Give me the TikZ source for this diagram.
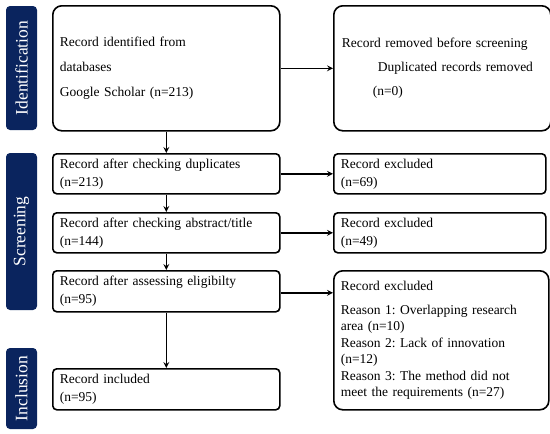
\documentclass[tikz,border=0pt]{standalone}
\usepackage{fontspec}
\setmainfont{Liberation Serif}
\usepackage{xcolor}
\usepackage{tikz}
\usetikzlibrary{arrows,positioning}
\definecolor{navy}{RGB}{10,36,94}
\frenchspacing

\begin{document}
\begin{tikzpicture}[x=1pt, y=-1pt, >=stealth,
        stage/.style={rectangle, rounded corners=4pt, fill=navy, text=white,
        rotate=90, minimum height=31pt, inner sep=0pt,
        font=\fontsize{17.5}{20}\selectfont},
        record/.style={rectangle, draw, line width=1.6pt, rounded corners=4pt,
        anchor=north west, align=left, inner xsep=7pt, inner ysep=0pt,
        font=\fontsize{13.5}{18}\selectfont},
        flow/.style={->, line width=1.6pt}]

    \useasboundingbox (0,0) rectangle (550,434);

    % stages
    \node[stage, minimum width=124pt] (identification) at (21.5,68) {Identification};
    \node[stage, minimum width=157pt] (screening) at (21.5,231.5) {Screening};
    \node[stage, minimum width=81pt] (inclusion) at (21.5,388.5) {Inclusion};

    % left column
    \node[record, rounded corners=9pt, text width=213pt, minimum height=125pt,
        font=\fontsize{13.5}{25}\selectfont] (identified) at (52,5)
        {Record identified from\\databases\\Google Scholar (n=213)};
    \node[record, text width=213pt, minimum height=40pt] (duplicates) at (52,153)
        {Record after checking duplicates\\(n=213)};
    \node[record, text width=213pt, minimum height=40pt] (abstract) at (52,212)
        {Record after checking abstract/title\\(n=144)};
    \node[record, text width=213pt, minimum height=41pt] (eligibility) at (52,270)
        {Record after assessing eligibilty\\(n=95)};
    \node[record, text width=213pt, minimum height=41pt] (included) at (52,368)
        {Record included\\(n=95)};

    % right column
    \node[record, rounded corners=9pt, text width=201pt, minimum height=125pt,
        inner xsep=8pt, font=\fontsize{13.5}{24}\selectfont] (removed) at (333,5)
        {Record removed before screening\\
        \hspace*{36pt}Duplicated records removed\\
        \hspace*{31pt}(n=0)};
    \node[record, text width=198pt, minimum height=40pt] (excluded1) at (333,153)
        {Record excluded\\(n=69)};
    \node[record, text width=198pt, minimum height=40pt] (excluded2) at (333,212)
        {Record excluded\\(n=49)};
    \node[record, rounded corners=9pt, text width=201pt, minimum height=139pt,
        font=\fontsize{13.5}{16.5}\selectfont] (excluded3) at (333,270)
        {Record excluded\\[7pt]
        Reason 1: Overlapping research\\area (n=10)\\
        Reason 2: Lack of innovation\\(n=12)\\
        Reason 3: The method did not\\meet the requirements (n=27)};

    % arrows
    \draw[flow] (identified) -- (removed);
    \draw[flow] (duplicates) -- (excluded1);
    \draw[flow] (abstract) -- (excluded2);
    \draw[flow] ([yshift=-1.5pt]eligibility.east) -- ([yshift=-1.5pt]eligibility.east -| excluded3.west);

    \draw[flow] (identified) -- (duplicates);
    \draw[flow] (duplicates) -- (abstract);
    \draw[flow] (abstract) -- (eligibility);
    \draw[flow] (eligibility) -- (included);

\end{tikzpicture}
\end{document}
